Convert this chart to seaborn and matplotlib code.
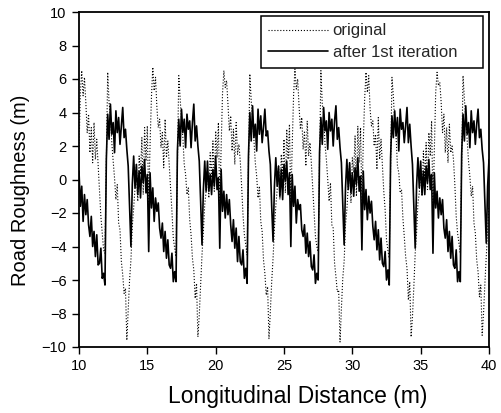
import numpy as np
import pandas as pd
import matplotlib
matplotlib.use("Agg")
import matplotlib.pyplot as plt
import seaborn as sns

x_start = 10.0
x_step = 0.1

# "after 1st iteration" (solid), one list per ~5.2 m cycle
after_p0 = [0.5, -1.6, -0.4, -2.5, -0.9, -2.1, -1.2, -2.7, -3.4, -2.2, -4.0, -3.1, -4.6, -3.3, -5.1, -5.0, -4.1, -5.9, -5.6]
after_p1 = [-6.3, 1.2, 3.9, 2.4, 4.5, 2.7, 3.4, 1.6, 4.1, 2.8, 3.7, 2.1, 3.2, 4.3, 2.5, 3.0, 1.8, 0.8, -1.7, -4.0,
            -0.3, 1.4, -0.5, 0.9, -0.9, 0.5, -1.1, 0.8, -0.2, 1.2, -0.8, 0.3, -4.3, 0.4, -1.7, -0.5, -2.5, -1.1, -1.9, -1.4,
            -2.9, -3.5, -2.6, -4.3, -3.1, -4.7, -3.6, -5.1, -5.3, -4.4, -6.1, -5.5]
after_p2 = [-6.1, 1.7, 3.6, 2.0, 4.2, 2.8, 3.6, 1.9, 3.9, 3.0, 3.5, 1.9, 3.4, 4.5, 2.3, 3.2, 2.0, 1.1, -1.3, -3.9,
            -0.6, 1.1, -0.7, 1.1, -0.7, 0.3, -0.9, 0.6, -0.4, 1.4, -0.6, 0.1, -4.1, 0.6, -1.9, -0.7, -2.3, -0.9, -2.1, -1.2,
            -2.7, -3.7, -2.4, -4.1, -2.9, -4.9, -3.4, -4.9, -5.1, -4.2, -5.9, -5.3]
after_p3 = [-6.2, 1.4, 4.0, 2.3, 4.4, 2.5, 3.3, 1.7, 4.2, 2.7, 3.8, 2.2, 3.1, 4.2, 2.6, 2.9, 1.7, 0.9, -1.6, -3.7,
            -0.4, 1.3, -0.4, 0.8, -1.0, 0.6, -1.2, 0.9, -0.1, 1.1, -0.9, 0.4, -4.0, 0.3, -1.6, -0.4, -2.6, -1.2, -1.8, -1.5,
            -3.0, -3.4, -2.7, -4.4, -3.2, -4.6, -3.7, -5.2, -5.4, -4.5, -6.2, -5.6]
after_p4 = [-6.0, 1.6, 3.7, 2.1, 4.3, 2.9, 3.5, 1.8, 4.0, 2.9, 3.6, 2.0, 3.5, 4.4, 2.4, 3.1, 1.9, 1.0, -1.4, -3.9,
            -0.5, 1.2, -0.6, 1.0, -0.8, 0.4, -1.0, 0.7, -0.3, 1.3, -0.7, 0.2, -4.2, 0.5, -1.8, -0.6, -2.4, -1.0, -2.0, -1.3,
            -2.8, -3.6, -2.5, -4.2, -3.0, -4.8, -3.5, -5.0, -5.2, -4.3, -6.0, -5.4]
after_p5 = [-6.3, 1.3, 3.8, 2.5, 4.1, 2.6, 3.7, 1.7, 4.2, 3.0, 3.4, 2.2, 3.2, 4.3, 2.2, 3.3, 2.0, 0.9, -1.6, -4.1,
            -0.4, 1.3, -0.5, 1.1, -0.9, 0.5, -0.9, 0.8, -0.2, 1.2, -0.6, 0.3, -4.4, 0.4, -1.7, -0.7, -2.3, -1.1, -2.1, -1.2,
            -2.9, -3.5, -2.4, -4.3, -3.1, -4.7, -3.4, -5.1, -5.3, -4.2, -6.1, -5.5]
after_p6 = [-6.1, 1.5, 3.9, 2.3, 4.4, 2.7, 3.4, 1.9, 4.1, 2.8, 3.5, 2.1, 3.3, 4.2, 2.5, 3.0, 1.8, 1.0, -1.5, -3.8,
            -0.4, 1.2]

# "original" (dotted)
orig_p0 = [1.8, 5.2, 6.5, 5.0, 6.1, 4.6, 2.8, 3.9, 1.6, 3.1, 1.0, 3.4, 1.2, 2.4, 0.9, -0.7, -2.2, -3.2, -4.2]
orig_p1 = [-4.4, 1.2, 6.4, 4.6, 3.8, 2.2, 1.1, 0.1, -1.2, -0.3, -2.6, -3.0, -4.9, -5.7, -6.8, -6.5, -9.6, -7.8, -6.0, -4.8,
           -2.8, -1.7, -0.5, 0.9, -1.3, 1.4, 0.3, 2.5, -0.9, 3.1, 1.1, 3.2, -1.4, 2.1, 4.9, 6.7, 5.3, 6.1, 4.3, 3.1,
           3.6, 1.9, 2.8, 0.7, 3.6, 1.3, 2.3, 0.9, -0.6, -1.9, -3.5, -4.1]
orig_p2 = [-4.6, 0.9, 6.2, 4.9, 3.5, 2.5, 0.9, 0.3, -0.9, -0.5, -2.4, -3.3, -4.7, -5.4, -7.1, -6.2, -9.4, -8.1, -6.3, -4.5,
           -3.1, -1.5, -0.7, 0.7, -1.1, 1.6, 0.1, 2.3, -0.7, 2.9, 1.3, 3.4, -1.6, 1.9, 5.1, 6.5, 5.5, 5.9, 4.5, 2.9,
           3.8, 1.7, 3.0, 0.9, 3.4, 1.5, 2.1, 1.1, -0.4, -2.1, -3.3, -3.9]
orig_p3 = [-4.5, 1.1, 6.3, 4.7, 3.7, 2.3, 1.0, 0.2, -1.1, -0.4, -2.5, -3.1, -4.8, -5.6, -6.9, -6.4, -9.5, -7.9, -6.1, -4.7,
           -2.9, -1.6, -0.6, 0.8, -1.2, 1.5, 0.2, 2.4, -0.8, 3.0, 1.2, 3.3, -1.5, 2.0, 5.0, 6.6, 5.4, 6.0, 4.4, 3.0,
           3.7, 1.8, 2.9, 0.8, 3.5, 1.4, 2.2, 1.0, -0.5, -2.0, -3.4, -4.0]
orig_p4 = [-4.3, 1.3, 6.5, 4.5, 3.9, 2.1, 1.2, 0.0, -1.3, -0.2, -2.7, -2.9, -5.0, -5.8, -6.7, -6.6, -9.7, -7.7, -5.9, -4.9,
           -2.7, -1.8, -0.4, 1.0, -1.4, 1.3, 0.4, 2.6, -1.0, 3.2, 1.0, 3.1, -1.3, 2.2, 4.8, 6.4, 5.2, 6.2, 4.2, 3.2,
           3.5, 2.0, 2.7, 0.6, 3.7, 1.2, 2.4, 0.8, -0.7, -1.8, -3.6, -4.2]
orig_p5 = [-4.7, 0.8, 6.1, 5.0, 3.4, 2.6, 0.8, 0.4, -0.8, -0.6, -2.3, -3.4, -4.6, -5.3, -7.2, -6.1, -9.4, -8.2, -6.4, -4.4,
           -3.2, -1.4, -0.8, 0.6, -1.0, 1.7, 0.0, 2.2, -0.6, 2.8, 1.4, 3.5, -1.7, 1.8, 5.2, 6.4, 5.6, 5.8, 4.6, 2.8,
           3.9, 1.6, 3.1, 1.0, 3.3, 1.6, 2.0, 1.2, -0.3, -2.2, -3.2, -3.8]
orig_p6 = [-4.4, 1.0, 6.2, 4.8, 3.6, 2.4, 1.1, 0.2, -1.0, -0.4, -2.6, -3.2, -4.8, -5.5, -7.0, -6.3, -9.3, -8.0, -6.2, -4.6,
           -3.0, -1.6]

x_ticks = [10, 15, 20, 25, 30, 35, 40]
y_ticks = [-10, -8, -6, -4, -2, 0, 2, 4, 6, 8, 10]

after_vals = after_p0 + after_p1 + after_p2 + after_p3 + after_p4 + after_p5 + after_p6
orig_vals = orig_p0 + orig_p1 + orig_p2 + orig_p3 + orig_p4 + orig_p5 + orig_p6

df_after = pd.DataFrame({"x": x_start + x_step * np.arange(len(after_vals)), "y": after_vals})
df_orig = pd.DataFrame({"x": x_start + x_step * np.arange(len(orig_vals)), "y": orig_vals})

# ---- style ----
sns.set_style("ticks")
plt.rcParams["font.family"] = ["Liberation Sans", "DejaVu Sans"]

W, H = 502, 413
fig = plt.figure(figsize=(W / 100, H / 100), dpi=100)
ax_l, ax_r, ax_t, ax_b = 79, 489, 12, 347
ax = fig.add_axes([ax_l / W, 1 - ax_b / H, (ax_r - ax_l) / W, (ax_b - ax_t) / H])

sns.lineplot(data=df_orig, x="x", y="y", ax=ax, color="black", linestyle=":",
             linewidth=0.8, estimator=None, sort=False, label="original")
sns.lineplot(data=df_after, x="x", y="y", ax=ax, color="black", linestyle="-",
             linewidth=1.2, estimator=None, sort=False, label="after 1st iteration")

ax.set_xlim(10, 40)
ax.set_ylim(-10, 10)
ax.set_xticks(x_ticks)
ax.set_yticks(y_ticks)
ax.tick_params(direction="out", length=5, width=1, colors="black", labelsize=10.5, pad=4)
for s in ax.spines.values():
    s.set_visible(True)
    s.set_color("black")
    s.set_linewidth(1.3)

ax.set_xlabel("Longitudinal Distance (m)", fontsize=16.5, color="black")
ax.set_ylabel("Road Roughness (m)", fontsize=14.5, color="black")
ax.xaxis.set_label_coords((298 - ax_l) / (ax_r - ax_l), (ax_b - 385) / (ax_b - ax_t))
ax.yaxis.set_label_coords((30 - ax_l) / (ax_r - ax_l), (ax_b - 190) / (ax_b - ax_t))

# legend box spanning ~261..483 px horizontally, top ~16 px
bx0 = (261 - ax_l) / (ax_r - ax_l)
bw = (483 - 261) / (ax_r - ax_l)
btop = 1 - (16 - ax_t) / (ax_b - ax_t)
leg = ax.legend(loc="upper left", bbox_to_anchor=(bx0, btop - 0.3, bw, 0.3), mode="expand",
                fontsize=12, frameon=True, fancybox=False, edgecolor="black", framealpha=1,
                handlelength=3.6, borderaxespad=0.0, handletextpad=0.25, borderpad=0.45,
                labelspacing=0.4)
leg.get_frame().set_linewidth(1.1)

fig.savefig("out.png", dpi=100)
